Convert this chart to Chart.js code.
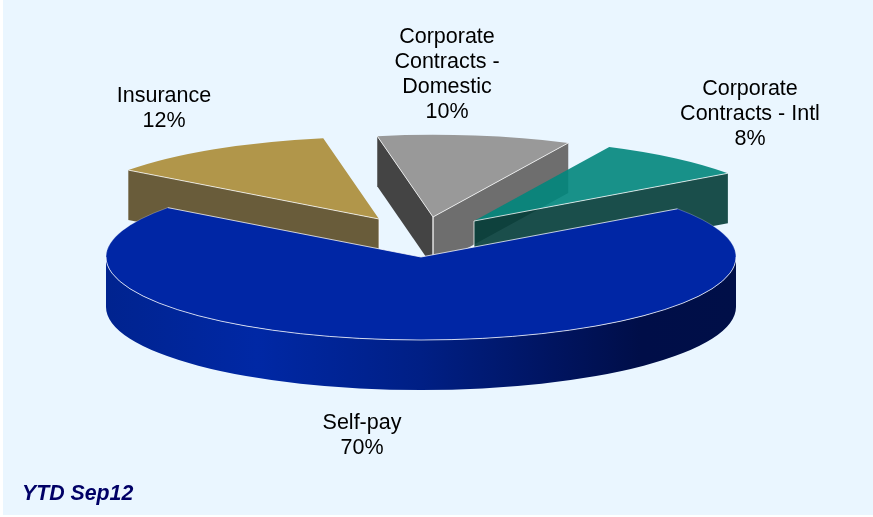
<!DOCTYPE html>
<html>
<head>
<meta charset="utf-8">
<style>
html,body{margin:0;padding:0;background:#fff;overflow:hidden}
canvas{display:block}
</style>
<script src="https://cdn.jsdelivr.net/npm/chart.js@4"></script>
</head>
<body>
<canvas id="revenueMix" width="873" height="517"></canvas>
<script>
// Revenue mix by payer
const categories = ['Self-pay', 'Insurance', 'Corporate Contracts - Domestic', 'Corporate Contracts - Intl'];
const shares = [70, 12, 10, 8];
const topColors = ['#0026A5', '#B1964A', '#999999', 'rgba(1,134,124,0.9)'];
const periodNote = 'YTD Sep12';

// How each label breaks across lines, and where its block is centred
const labelLines = [['Self-pay'], ['Insurance'], ['Corporate', 'Contracts -', 'Domestic'], ['Corporate', 'Contracts - Intl']];
const labelCentres = [[362, 436], [164, 109], [447, 75], [750, 114]];

// Wedges are painted back to front; the large front wedge goes last
const paintOrder = [1, 2, 3, 0];
// Explosion of each wedge from the pie centre, in pixels, and its perspective shrink
const explode = [[0, 0], [-42, -38], [12, -40], [53, -36]];
const shrink = [1, 0.99, 0.99, 0.99];
// Cut-face colours for each wedge: [start side, end side]
const cutFaces = [[null, null], ['#695C3A', null], ['#444444', '#6E6E6E'], [null, 'rgba(3,60,55,0.9)']];

const TILT = 83 / 315;   // vertical squash of the pie disc
const DEPTH = 50;        // extrusion height
const FONT = 'Liberation Sans, Arial, sans-serif';

const pie3d = {
  id: 'pie3d',
  beforeDraw(chart) {
    const c = chart.ctx;
    c.save();
    c.fillStyle = '#EAF6FF';
    c.fillRect(3, 0, 870, 515);
    c.restore();
  },
  beforeDatasetsDraw(chart) {
    const c = chart.ctx;
    const arcs = chart.getDatasetMeta(0).data;
    paintOrder.forEach(i => {
      const arc = arcs[i];
      const cx = arc.x, cy = arc.y;
      const ax = cx + explode[i][0], ay = cy + explode[i][1];
      const rx = arc.outerRadius * shrink[i], ry = rx * TILT;
      const at = t => [ax + rx * Math.cos(t), ay + ry * Math.sin(t)];
      const start = arc.startAngle, end = arc.endAngle;

      // Flat cut faces
      [[start, cutFaces[i][0]], [end, cutFaces[i][1]]].forEach(([t, color]) => {
        if (!color) return;
        const [px, py] = at(t);
        c.beginPath();
        c.moveTo(ax, ay);
        c.lineTo(px, py);
        c.lineTo(px, py + DEPTH);
        c.lineTo(ax, ay + DEPTH);
        c.closePath();
        c.fillStyle = color;
        c.fill();
      });

      // Curved outer wall on the part of the rim that faces the viewer
      const from = Math.max(start, 0), to = Math.min(end, Math.PI);
      if (to > from) {
        const g = c.createLinearGradient(ax - rx, 0, ax + rx, 0);
        g.addColorStop(0, '#00238F');
        g.addColorStop(0.24, '#0028A5');
        g.addColorStop(0.5, '#001F85');
        g.addColorStop(0.71, '#001460');
        g.addColorStop(0.85, '#000E48');
        g.addColorStop(1, '#000F48');
        c.beginPath();
        c.ellipse(ax, ay, rx, ry, 0, from, to, false);
        c.ellipse(ax, ay + DEPTH, rx, ry, 0, to, from, true);
        c.closePath();
        c.fillStyle = g;
        c.fill();
      }

      // Top face comes from the library's own arc element, squashed onto the disc plane
      c.save();
      c.translate(ax, ay);
      c.scale(shrink[i], shrink[i] * TILT);
      c.translate(-cx, -cy);
      arc.draw(c);
      c.restore();

      // Thin highlights along the visible edges
      c.save();
      c.lineWidth = 1;
      c.strokeStyle = 'rgba(255,255,255,0.75)';
      if (i === 0) {
        c.beginPath();
        c.moveTo(...at(start));
        c.lineTo(ax, ay);
        c.lineTo(...at(end));
        c.stroke();
        c.beginPath();
        c.ellipse(ax, ay, rx, ry, 0, from, to, false);
        c.stroke();
        c.strokeStyle = 'rgba(255,255,255,0.25)';
        c.beginPath();
        c.ellipse(ax, ay, rx, ry, 0, start, from, false);
        c.stroke();
        c.beginPath();
        c.ellipse(ax, ay, rx, ry, 0, to, end, false);
        c.stroke();
      } else {
        [[start, cutFaces[i][0]], [end, cutFaces[i][1]]].forEach(([t, color]) => {
          if (!color) return;
          const [px, py] = at(t);
          c.beginPath();
          c.moveTo(ax, ay);
          c.lineTo(px, py);
          c.stroke();
          c.beginPath();
          c.moveTo(ax, ay);
          c.lineTo(ax, ay + DEPTH);
          c.stroke();
        });
      }
      c.restore();
    });

    // Slice captions and the period note
    c.save();
    c.fillStyle = '#000';
    c.font = '21.5px ' + FONT;
    c.textAlign = 'center';
    c.textBaseline = 'middle';
    categories.forEach((_, i) => {
      const lines = labelLines[i].concat(shares[i] + '%');
      const top = labelCentres[i][1] - (lines.length - 1) * 25 / 2;
      lines.forEach((line, n) => c.fillText(line, labelCentres[i][0], top + n * 25));
    });
    c.fillStyle = '#000066';
    c.font = 'italic bold 21.3px ' + FONT;
    c.textAlign = 'left';
    c.textBaseline = 'alphabetic';
    c.fillText(periodNote, 22, 500);
    c.restore();
    return false;
  }
};

new Chart(document.getElementById('revenueMix'), {
  type: 'pie',
  data: {
    labels: categories,
    datasets: [{ data: shares, backgroundColor: topColors, borderWidth: 0 }]
  },
  options: {
    responsive: false,
    animation: false,
    rotation: 54.5,
    radius: 315,
    layout: { padding: { right: 31, bottom: 3 } },
    plugins: { legend: { display: false }, tooltip: { enabled: false } }
  },
  plugins: [pie3d]
});
</script>
</body>
</html>
